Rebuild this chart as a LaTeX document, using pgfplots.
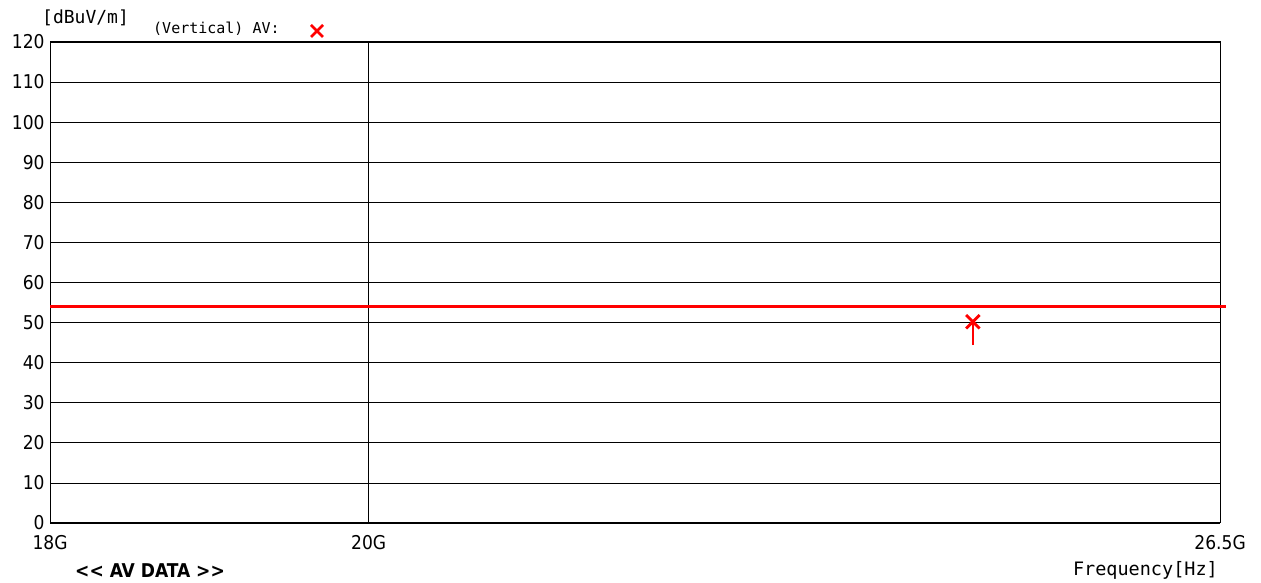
\documentclass[border=0pt]{standalone}
\usepackage{pgfplots}
\pgfplotsset{compat=1.18}
\usepackage{fontspec}
\setmainfont{DejaVu Sans Condensed}
\newfontfamily\monofont{DejaVu Sans Mono}
\begin{document}
\begin{tikzpicture}
\useasboundingbox (-50pt,-60pt) rectangle (1211pt,523pt);
\begin{axis}[
  at={(0pt,0pt)}, anchor=south west,
  width=1170pt, height=481pt, scale only axis,
  xmode=log, xmin=18, xmax=26.5,
  ymin=0, ymax=120,
  ytick={0,10,...,120},
  xtick={18,20,26.5},
  xticklabels={18G,20G,26.5G},
  minor xtick={}, minor ytick={},
  grid=major, major grid style={black, line width=0.8pt},
  axis line style={black, line width=1pt},
  tick style={draw=none},
  tick label style={font=\fontsize{19}{19}\selectfont},
  yticklabel style={xshift=-2pt},
  xticklabel style={yshift=-9pt},
  /pgf/number format/assume math mode=true,
  clip=false,
]
% limit line (GHz, dBuV/m)
\addplot[red, line width=2.5pt] coordinates {(18,54) (26.55,54)};
\addplot[red, line width=2.5pt] coordinates {(24.42,44.4) (24.42,50.2)};
\addplot[red, only marks, mark=x, mark size=9.5pt, mark options={line width=2.8pt}] coordinates {(24.42,50.2)};
\end{axis}
\node[anchor=south west, inner sep=0pt, font=\monofont\fontsize{18}{18}\selectfont] at (-8pt,497pt) {[dBuV/m]};
\node[anchor=base west, inner sep=0pt, font=\monofont\fontsize{15}{15}\selectfont] at (103pt,489pt) {(Vertical) AV:};
\draw[red, line width=2.5pt] (261pt,486pt) -- (273pt,498pt) (261pt,498pt) -- (273pt,486pt);
\node[anchor=base west, inner sep=0pt, font=\bfseries\fontsize{19}{19}\selectfont] at (25pt,-55pt) {{<}{<} AV DATA {>}{>}};
\node[anchor=base east, inner sep=0pt, font=\monofont\fontsize{18.5}{18.5}\selectfont] at (1168pt,-53pt) {Frequency[Hz]};
\end{tikzpicture}
\end{document}
